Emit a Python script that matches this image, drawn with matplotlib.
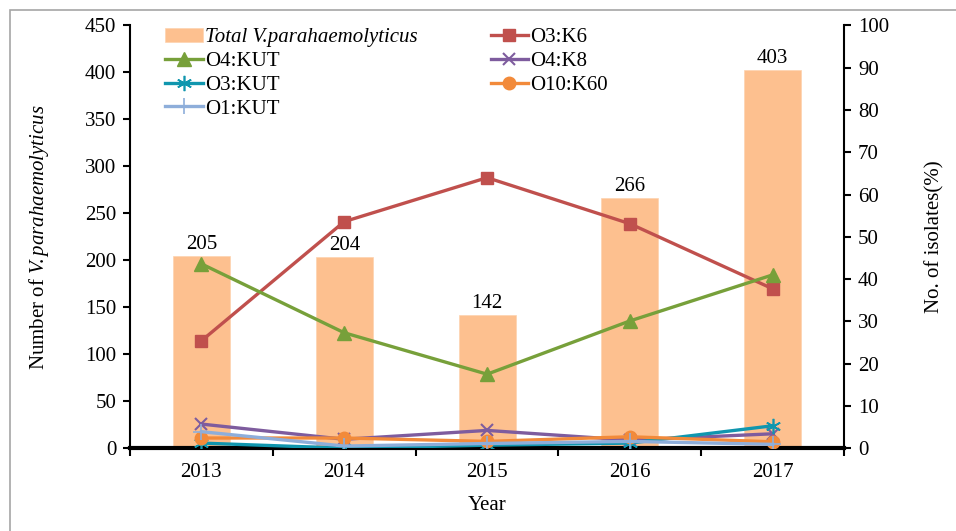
import matplotlib
matplotlib.use('Agg')
import matplotlib.pyplot as plt
from matplotlib.patches import Rectangle
import numpy as np

plt.rcParams['font.family'] = ['Liberation Serif', 'DejaVu Serif']
plt.rcParams['mathtext.fontset'] = 'custom'
plt.rcParams['mathtext.rm'] = 'Liberation Serif'
plt.rcParams['mathtext.it'] = 'Liberation Serif:italic'

years = ['2013', '2014', '2015', '2016', '2017']
total = [205, 204, 142, 266, 403]

# percentage of isolates per serotype
o3k6 = [25.4, 53.6, 64.0, 53.1, 37.7]
o4kut = [43.6, 27.3, 17.5, 30.1, 41.0]
o4k8 = [5.7, 2.1, 4.2, 1.9, 3.4]
o3kut = [1.2, 0.0, 0.7, 1.2, 5.3]
o10k60 = [2.4, 2.4, 1.6, 2.7, 1.5]
o1kut = [3.9, 0.5, 1.1, 1.6, 0.9]

fs = 15

fig = plt.figure(figsize=(9.56, 5.31), dpi=100)
ax = fig.add_axes([0.136, 0.156, 0.747, 0.796])
ax2 = ax.twinx()

x = np.arange(len(years))
bars = ax.bar(x, total, width=0.4, color='#FDC08F', edgecolor='#FDD3B0', linewidth=0.5,
              label='Total V.parahaemolyticus', zorder=1)
for xi, v in zip(x, total):
    ax.text(xi, v + 2, str(v), ha='center', va='bottom', fontsize=fs)

lw = 2.4
l1, = ax2.plot(x, o3k6, color='#C0504D', marker='s', ms=9, lw=lw, label='O3:K6')
l2, = ax2.plot(x, o4kut, color='#77A03A', marker='^', ms=10, lw=lw, label='O4:KUT')
l3, = ax2.plot(x, o4k8, color='#7E5C9E', marker='x', ms=9, mew=1.5, lw=lw, label='O4:K8')
l4, = ax2.plot(x, o3kut, color='#1096AE', marker=(6, 2, 0), ms=11, mew=1.2, lw=lw, label='O3:KUT')
l5, = ax2.plot(x, o10k60, color='#F28A3A', marker='o', ms=9, lw=lw, label='O10:K60')
l6, = ax2.plot(x, o1kut, color='#8EAEDA', marker='+', ms=11, mew=1.2, lw=lw, label='O1:KUT')

ax.set_xlim(-0.5, 4.5)
ax.set_ylim(0, 450)
ax.set_yticks(range(0, 451, 50))
ax2.set_ylim(0, 100)
ax2.set_yticks(range(0, 101, 10))

ax.set_xticks(x)
ax.set_xticklabels(years)
ax.set_xticks(np.arange(-0.5, 4.6, 1), minor=True)
ax.tick_params(axis='x', which='major', length=0, pad=11, labelsize=fs)
ax.tick_params(axis='x', which='minor', length=6, width=1.5, direction='out')
ax.tick_params(axis='y', length=5, width=1.5, direction='out', labelsize=fs, pad=5)
ax2.tick_params(axis='y', length=5, width=1.5, direction='out', labelsize=fs, pad=5)

for a in (ax, ax2):
    a.spines['top'].set_visible(False)
ax.spines['left'].set_linewidth(1.5)
ax2.spines['right'].set_linewidth(1.5)
ax.spines['bottom'].set_linewidth(3)
ax2.spines['bottom'].set_visible(False)
ax2.spines['left'].set_visible(False)
ax.spines['right'].set_visible(False)

ax.set_xlabel('Year', fontsize=fs, labelpad=10)
ax.set_ylabel('Number of $\\mathit{V\\!.parahaemolyticus}$', fontsize=fs, labelpad=24)
ax2.set_ylabel('No. of isolates(%)', fontsize=fs, labelpad=26)

handles = [bars, l2, l4, l6, l1, l3, l5]
leg = ax2.legend(handles=handles, labels=[h.get_label() for h in handles], ncol=2,
                 loc='upper left', bbox_to_anchor=(0.035, 1.019), frameon=False, borderpad=0,
                 fontsize=fs, handlelength=1.8, handletextpad=0.1, columnspacing=3.5,
                 labelspacing=0.2)
leg.get_texts()[0].set_style('italic')

fig.patches.append(Rectangle((10 / 956, -0.1), 1.2, 1 - 10 / 531 + 0.1, transform=fig.transFigure,
                             fill=False, edgecolor='#A6A6A6', lw=1.2))

fig.savefig('out.png', dpi=100)
